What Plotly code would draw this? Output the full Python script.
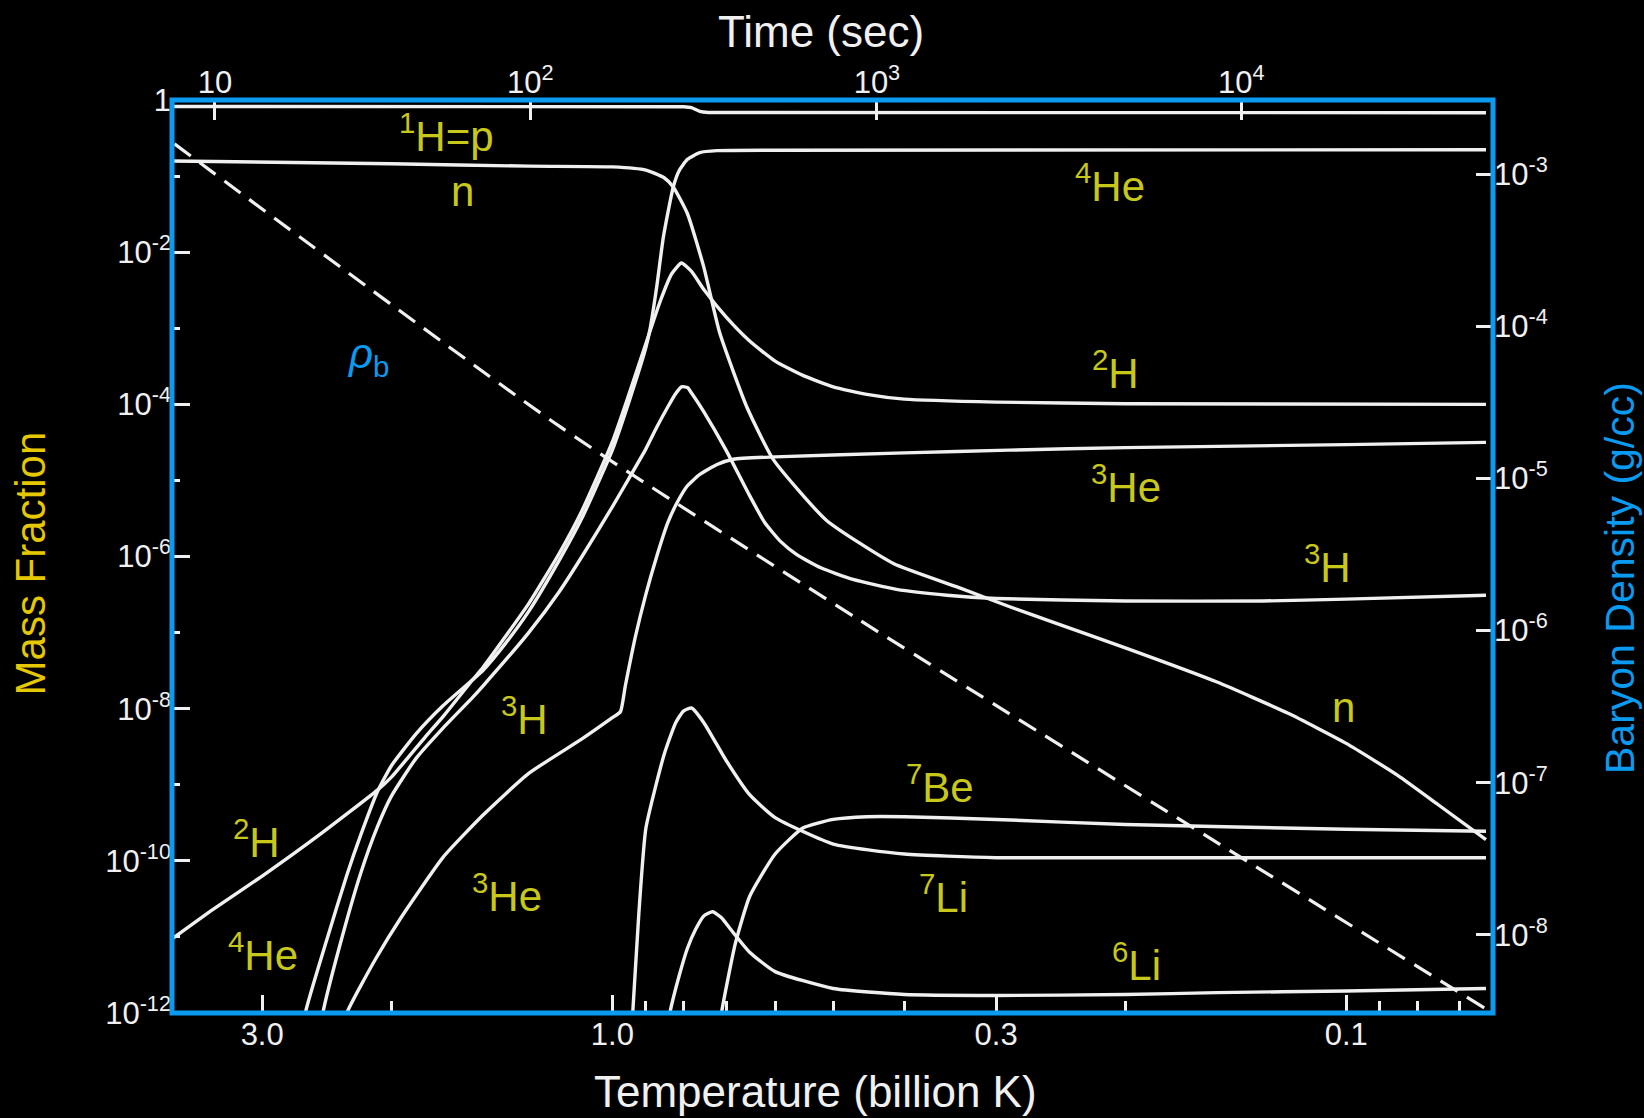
import math
import plotly.graph_objects as go

# ---------------- data ----------------
# Temperature in billion K, mass fractions (left axis), baryon density g/cc (right axis)
p_T = [4.0, 0.8, 0.78, 0.76, 0.74, 0.0645]
p_X = [0.822, 0.817, 0.794, 0.708, 0.684, 0.681]

n_T = [4.0, 2.0, 1.3, 1.0, 0.9, 0.85, 0.826, 0.79, 0.751, 0.714, 0.656, 0.603, 0.511,
       0.414, 0.337, 0.288, 0.25, 0.2, 0.15, 0.12, 0.1, 0.085, 0.075, 0.0645]
n_X = [0.158, 0.145, 0.135, 0.132, 0.12, 0.095, 0.072, 0.032, 6.5e-3, 8.7e-4, 9.3e-5,
       1.86e-5, 3.0e-6, 8.1e-7, 3.9e-7, 2.2e-7, 1.35e-7, 6.3e-8, 2.24e-8, 8.7e-9,
       3.5e-9, 1.32e-9, 5.5e-10, 1.9e-10]

h2_T = [4.0, 3.5, 3.0, 2.5, 2.09, 2.0, 1.8, 1.7, 1.55, 1.5, 1.3, 1.18, 1.1, 1.0, 0.95,
        0.9, 0.86, 0.83, 0.805, 0.78, 0.75, 0.7, 0.65, 0.6, 0.55, 0.5, 0.45, 0.4, 0.3,
        0.2, 0.0645]
h2_X = [9.1e-12, 2.3e-11, 6.3e-11, 2.24e-10, 8.5e-10, 1.26e-9, 4.2e-9, 7.9e-9, 2.4e-8,
        3.5e-8, 2.4e-7, 1.12e-6, 4.0e-6, 3.2e-5, 1.32e-4, 6.3e-4, 2.3e-3, 5.2e-3, 7.2e-3,
        5.6e-3, 3.2e-3, 1.41e-3, 6.8e-4, 3.7e-4, 2.4e-4, 1.7e-4, 1.35e-4, 1.17e-4, 1.07e-4,
        1.02e-4, 1.0e-4]

he4_T = [2.65, 2.62, 2.45, 2.3, 2.2, 2.09, 2.0, 1.85, 1.7, 1.55, 1.5, 1.4, 1.3, 1.18, 1.1,
         1.0, 0.95, 0.9, 0.888, 0.87, 0.852, 0.826, 0.81, 0.79, 0.76, 0.72, 0.6, 0.0645]
he4_X = [3.2e-13, 1.0e-12, 9.1e-12, 6.5e-11, 2.24e-10, 8.1e-10, 1.78e-9, 4.7e-9, 1.1e-8,
         2.4e-8, 3.2e-8, 7.1e-8, 1.9e-7, 9.1e-7, 3.2e-6, 2.5e-5, 1.05e-4, 5.6e-4, 1.0e-3,
         3.5e-3, 1.58e-2, 7.2e-2, 0.12, 0.166, 0.204, 0.216, 0.219, 0.222]

h3_T = [2.52, 2.48, 2.35, 2.2, 2.09, 2.0, 1.85, 1.7, 1.55, 1.5, 1.3, 1.18, 1.1, 1.0, 0.95,
        0.9, 0.87, 0.84, 0.82, 0.805, 0.79, 0.78, 0.75, 0.7, 0.65, 0.62, 0.59, 0.56, 0.52,
        0.47, 0.41, 0.35, 0.3, 0.2, 0.13, 0.1, 0.0645]
h3_X = [3.2e-13, 1.0e-12, 7.9e-12, 7.1e-11, 2.8e-10, 7.1e-10, 2.24e-9, 5.6e-9, 1.41e-8,
        2.0e-8, 1.0e-7, 3.5e-7, 1.0e-6, 4.5e-6, 1.05e-5, 2.6e-5, 5.0e-5, 9.3e-5, 1.38e-4,
        1.7e-4, 1.66e-4, 1.41e-4, 7.9e-5, 2.5e-5, 6.3e-6, 2.8e-6, 1.58e-6, 1.05e-6, 7.1e-7,
        5.0e-7, 3.7e-7, 3.1e-7, 2.8e-7, 2.6e-7, 2.6e-7, 2.75e-7, 3.1e-7]

he3_T = [2.35, 2.3, 2.1, 1.94, 1.7, 1.5, 1.3, 1.1, 1.0, 0.975, 0.96, 0.93, 0.9, 0.87, 0.84,
         0.817, 0.79, 0.76, 0.72, 0.684, 0.6, 0.4, 0.288, 0.2, 0.1, 0.0645]
he3_X = [4.0e-13, 1.0e-12, 5.2e-12, 1.8e-11, 1.12e-10, 4.0e-10, 1.41e-9, 4.0e-9, 7.6e-9,
         9.1e-9, 2.0e-8, 8.9e-8, 3.2e-7, 1.0e-6, 2.8e-6, 5.0e-6, 8.5e-6, 1.2e-5, 1.62e-5,
         1.9e-5, 2.04e-5, 2.3e-5, 2.5e-5, 2.7e-5, 2.95e-5, 3.16e-5]

li7_T = [0.945, 0.938, 0.92, 0.9, 0.85, 0.82, 0.8, 0.78, 0.75, 0.7, 0.65, 0.6, 0.5, 0.4,
         0.3, 0.0645]
li7_X = [4.0e-13, 1.0e-12, 2.1e-11, 2.7e-10, 2.5e-9, 6.5e-9, 9.3e-9, 1.02e-8, 6.5e-9,
         2.1e-9, 7.4e-10, 3.7e-10, 1.66e-10, 1.23e-10, 1.1e-10, 1.1e-10]

be7_T = [0.72, 0.71, 0.68, 0.65, 0.6, 0.55, 0.5, 0.45, 0.4, 0.3, 0.2, 0.1, 0.0645]
be7_X = [3.2e-13, 1.0e-12, 8.1e-12, 3.4e-11, 1.23e-10, 2.7e-10, 3.5e-10, 3.8e-10,
         3.8e-10, 3.5e-10, 3.0e-10, 2.6e-10, 2.45e-10]

li6_T = [0.845, 0.835, 0.81, 0.79, 0.77, 0.75, 0.73, 0.71, 0.69, 0.65, 0.6, 0.5, 0.4, 0.3,
         0.2, 0.15, 0.1, 0.0645]
li6_X = [5.0e-13, 1.0e-12, 3.2e-12, 7.1e-12, 1.26e-11, 1.9e-11, 2.14e-11, 1.78e-11,
         1.26e-11, 6.3e-12, 3.5e-12, 2.1e-12, 1.75e-12, 1.7e-12, 1.75e-12, 1.85e-12,
         1.95e-12, 2.1e-12]

rho_T = [3.95, 1.177, 0.46, 0.0647]
rho_b = [1.58e-3, 2.18e-5, 1.17e-6, 3.29e-9]

# axis ticks
temp_ticks = [3.0, 1.0, 0.3, 0.1]
temp_ticktext = ["3.0", "1.0", "0.3", "0.1"]
temp_minor = [2.0, 0.9, 0.8, 0.7, 0.6, 0.5, 0.4, 0.2, 0.09, 0.08, 0.07]
time_labels = ["10", "10<sup>2</sup>", "10<sup>3</sup>", "10<sup>4</sup>"]
time_at_T = [3.48, 1.294, 0.436, 0.139]   # temperature at which each time tick sits
mf_ticks = [1, 1e-2, 1e-4, 1e-6, 1e-8, 1e-10, 1e-12]
mf_ticktext = ["1", "10<sup>-2</sup>", "10<sup>-4</sup>", "10<sup>-6</sup>",
               "10<sup>-8</sup>", "10<sup>-10</sup>", "10<sup>-12</sup>"]
mf_minor = [1e-1, 1e-3, 1e-5, 1e-7, 1e-9, 1e-11]
rho_ticks = [1e-3, 1e-4, 1e-5, 1e-6, 1e-7, 1e-8]
rho_ticktext = ["10<sup>-3</sup>", "10<sup>-4</sup>", "10<sup>-5</sup>",
                "10<sup>-6</sup>", "10<sup>-7</sup>", "10<sup>-8</sup>"]

# curve labels: (text, T, X)
curve_labels = [
    ("<sup>1</sup>H=p", 1.68, 0.367),
    ("n", 1.60, 0.062),
    ("<sup>4</sup>He", 0.2096, 0.080),
    ("<sup>2</sup>H", 0.206, 2.82e-4),
    ("<sup>3</sup>He", 0.1995, 8.9e-6),
    ("<sup>3</sup>H", 0.106, 7.9e-7),
    ("n", 0.101, 1.03e-8),
    ("<sup>7</sup>Be", 0.358, 1.02e-9),
    ("<sup>7</sup>Li", 0.354, 3.66e-11),
    ("<sup>6</sup>Li", 0.193, 4.7e-12),
    ("<sup>3</sup>H", 1.316, 8.0e-9),
    ("<sup>2</sup>H", 3.058, 1.96e-10),
    ("<sup>3</sup>He", 1.392, 3.8e-11),
    ("<sup>4</sup>He", 2.99, 6.4e-12),
]
rho_label_pos = (2.153, 4.27e-4)

# ---------------- figure ----------------
WHITE = "#f0f0f0"
BLUE = "#0a9bf0"
LABEL_YELLOW = "#c8c81a"
TITLE_YELLOW = "#e6c800"
FONT = "Liberation Sans, Arial, sans-serif"

fig = go.Figure()

for T, X in [(p_T, p_X), (n_T, n_X), (h2_T, h2_X), (he4_T, he4_X), (h3_T, h3_X),
             (he3_T, he3_X), (li7_T, li7_X), (be7_T, be7_X), (li6_T, li6_X)]:
    fig.add_trace(go.Scatter(x=T, y=X, mode="lines",
                             line=dict(color=WHITE, width=3.4, shape="spline", smoothing=0.5),
                             hoverinfo="skip", showlegend=False))

fig.add_trace(go.Scatter(x=rho_T, y=rho_b, mode="lines", yaxis="y2",
                         line=dict(color=WHITE, width=3.2, dash="20px,11px", shape="spline",
                                   smoothing=0.6),
                         hoverinfo="skip", showlegend=False))
# invisible trace to activate the top time axis
fig.add_trace(go.Scatter(x=time_at_T, y=[1e-6] * 4, xaxis="x2", mode="markers",
                         marker=dict(opacity=0), hoverinfo="skip", showlegend=False))

tickfont = dict(family=FONT, size=31, color=WHITE)
xr = [0.6, -1.2]

fig.update_layout(
    width=1644, height=1118,
    margin=dict(l=172, r=151, t=100, b=105),
    paper_bgcolor="black", plot_bgcolor="black",
    xaxis=dict(type="log", range=xr, showgrid=False, zeroline=False, showline=False,
               tickmode="array", tickvals=temp_ticks, ticktext=temp_ticktext,
               ticks="inside", ticklen=18, tickwidth=2.5, tickcolor=WHITE, tickfont=tickfont,
               minor=dict(tickmode="array", tickvals=temp_minor, ticks="inside",
                          ticklen=12, tickwidth=2.5, tickcolor=WHITE, showgrid=False)),
    xaxis2=dict(type="log", range=xr, overlaying="x", side="top", showgrid=False,
                zeroline=False, showline=False, tickmode="array", tickvals=time_at_T,
                ticktext=time_labels, ticks="inside", ticklen=20, tickwidth=2.5,
                tickcolor=WHITE, tickfont=tickfont),
    yaxis=dict(type="log", range=[-12, 0], showgrid=False, zeroline=False, showline=False,
               tickmode="array", tickvals=mf_ticks, ticktext=mf_ticktext,
               ticks="inside", ticklen=18, tickwidth=2.5, tickcolor=WHITE, tickfont=tickfont,
               minor=dict(tickmode="array", tickvals=mf_minor, ticks="inside",
                          ticklen=8, tickwidth=2.5, tickcolor=WHITE, showgrid=False)),
    yaxis2=dict(type="log", range=[-8.513, -2.513], overlaying="y", side="right",
                showgrid=False, zeroline=False, showline=False, tickmode="array",
                tickvals=rho_ticks, ticktext=rho_ticktext, ticks="inside", ticklen=17,
                tickwidth=2.5, tickcolor=WHITE, tickfont=tickfont),
    shapes=[dict(type="rect", xref="paper", yref="paper", x0=0, y0=0, x1=1, y1=1,
                 line=dict(color=BLUE, width=5), layer="above")],
)

# axis titles
titles = [
    ("Time (sec)", 0.4913, 1.075, 0, WHITE, 44),
    ("Temperature (billion K)", 0.4875, -0.086, 0, WHITE, 44),
    ("Mass Fraction", -0.1064, 0.4929, -90, TITLE_YELLOW, 42),
    ("Baryon Density (g/cc)", 1.0961, 0.4764, -90, BLUE, 41),
]
for text, px, py, ang, col, sz in titles:
    fig.add_annotation(x=px, y=py, xref="paper", yref="paper", text=text, showarrow=False,
                       textangle=ang, xanchor="center", yanchor="middle",
                       font=dict(family=FONT, size=sz, color=col))

for text, T, X in curve_labels:
    fig.add_annotation(x=math.log10(T), y=math.log10(X), text=text, showarrow=False,
                       font=dict(family=FONT, size=42, color=LABEL_YELLOW))
fig.add_annotation(x=math.log10(rho_label_pos[0]), y=math.log10(rho_label_pos[1]),
                   text="<i>ρ</i><sub>b</sub>", showarrow=False,
                   font=dict(family=FONT, size=42, color=BLUE))

fig.write_html("out.html")
